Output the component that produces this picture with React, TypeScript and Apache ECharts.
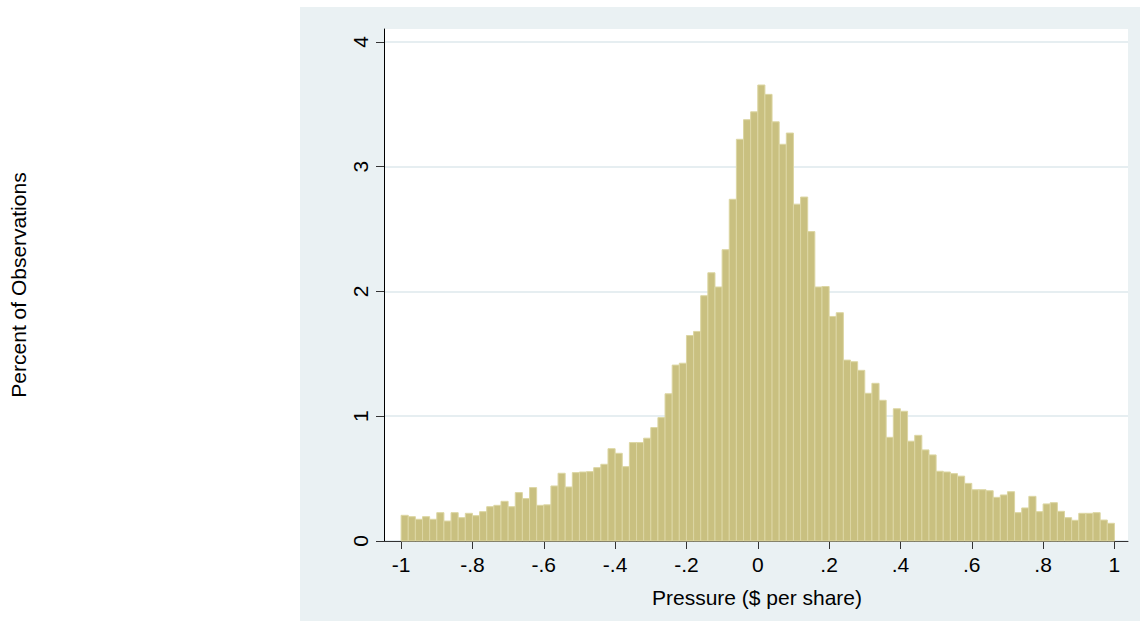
import React, { useEffect, useRef } from "react";
import * as echarts from "echarts";

// Histogram of pressure, bin width 0.02 from -1 to 1 (percent of observations per bin)
const BIN_START = -1;
const BIN_WIDTH = 0.02;
const percentValues: number[] = [
  0.206, 0.195, 0.174, 0.195, 0.174, 0.227, 0.16, 0.227, 0.187, 0.222,
  0.203, 0.235, 0.275, 0.286, 0.318, 0.275, 0.388, 0.34, 0.428, 0.286,
  0.29, 0.441, 0.543, 0.433, 0.548, 0.553, 0.556, 0.588, 0.615, 0.74,
  0.703, 0.596, 0.789, 0.789, 0.824, 0.909, 0.989, 1.18, 1.41, 1.425,
  1.647, 1.68, 1.966, 2.15, 2.036, 2.335, 2.739, 3.22, 3.377, 3.44,
  3.655, 3.58, 3.36, 3.18, 3.27, 2.7, 2.757, 2.48, 2.036, 2.04,
  1.8, 1.83, 1.45, 1.437, 1.368, 1.184, 1.264, 1.128, 0.831, 1.06,
  1.04, 0.8, 0.847, 0.73, 0.69, 0.559, 0.553, 0.54, 0.52, 0.462,
  0.411, 0.411, 0.403, 0.35, 0.369, 0.395, 0.227, 0.265, 0.358, 0.235,
  0.297, 0.307, 0.238, 0.187, 0.166, 0.222, 0.222, 0.227, 0.168, 0.142,
];

const xTickValues = [-1, -0.8, -0.6, -0.4, -0.2, 0, 0.2, 0.4, 0.6, 0.8, 1];
const xTickLabels = ["-1", "-.8", "-.6", "-.4", "-.2", "0", ".2", ".4", ".6", ".8", "1"];
const yTickValues = [0, 1, 2, 3, 4];
const yTickLabels = ["0", "1", "2", "3", "4"];

const xTitle = "Pressure ($ per share)";
const yTitle = "Percent of Observations";

const FONT = "'Liberation Sans', Arial, sans-serif";
const PANEL = "#EAF1F3";

export default function App() {
  const ref = useRef<HTMLDivElement>(null);

  useEffect(() => {
    document.body.style.margin = "0";
    if (!ref.current) return;
    const chart = echarts.init(ref.current, null, { renderer: "svg" });

    const data = percentValues.map((v, i) => [
      BIN_START + i * BIN_WIDTH,
      BIN_START + (i + 1) * BIN_WIDTH,
      v,
    ]);

    const labelFor = (vals: number[], labels: string[]) => (v: number) => {
      let best = 0;
      for (let i = 1; i < vals.length; i++) {
        if (Math.abs(vals[i] - v) < Math.abs(vals[best] - v)) best = i;
      }
      return labels[best];
    };

    chart.setOption({
      animation: false,
      backgroundColor: "#ffffff",
      grid: {
        left: 384,
        right: 12,
        top: 29,
        bottom: 80,
        show: true,
        backgroundColor: "#ffffff",
        borderWidth: 0,
      },
      graphic: [
        {
          type: "rect",
          z: -10,
          silent: true,
          shape: { x: 300, y: 7, width: 840, height: 614 },
          style: { fill: PANEL },
        },
        {
          type: "text",
          x: 757,
          y: 597,
          style: {
            text: xTitle,
            font: `21px ${FONT}`,
            fill: "#000",
            align: "center",
            verticalAlign: "middle",
          },
        },
        {
          type: "text",
          x: 18,
          y: 285,
          rotation: Math.PI / 2,
          style: {
            text: yTitle,
            font: `21px ${FONT}`,
            fill: "#000",
            align: "center",
            verticalAlign: "middle",
          },
        },
      ],
      xAxis: {
        type: "value",
        min: -1.048,
        max: 1.038,
        axisLine: { show: true, onZero: false, lineStyle: { color: "#333", width: 1 } },
        axisTick: {
          show: true,
          customValues: xTickValues,
          length: 8,
          lineStyle: { color: "#333", width: 1 },
        },
        axisLabel: {
          customValues: xTickValues,
          formatter: labelFor(xTickValues, xTickLabels),
          fontFamily: FONT,
          fontSize: 21,
          color: "#000",
          margin: 13,
        },
        splitLine: { show: false },
      },
      yAxis: {
        type: "value",
        min: 0,
        max: 4.104,
        interval: 1,
        axisLine: { show: true, onZero: false, lineStyle: { color: "#000", width: 1 } },
        axisTick: {
          show: true,
          customValues: yTickValues,
          length: 8,
          lineStyle: { color: "#333", width: 1 },
        },
        axisLabel: {
          customValues: yTickValues,
          formatter: labelFor(yTickValues, yTickLabels),
          rotate: 90,
          fontFamily: FONT,
          fontSize: 21,
          color: "#000",
          margin: 13,
        },
        splitLine: { show: true, lineStyle: { color: "#E6EEF1", width: 2 } },
      },
      series: [
        {
          type: "custom",
          data,
          encode: { x: [0, 1], y: 2 },
          renderItem: (params: any, api: any) => {
            const x0 = api.value(0);
            const x1 = api.value(1);
            const y = api.value(2);
            const p0 = api.coord([x0, y]);
            const p1 = api.coord([x1, 0]);
            return {
              type: "rect",
              shape: { x: p0[0], y: p0[1], width: p1[0] - p0[0], height: p1[1] - p0[1] },
              style: { fill: "#C9C080", stroke: "#DCD6A3", lineWidth: 1 },
            };
          },
        },
      ],
    });

    return () => chart.dispose();
  }, []);

  return <div ref={ref} style={{ width: 1140, height: 621 }} />;
}
